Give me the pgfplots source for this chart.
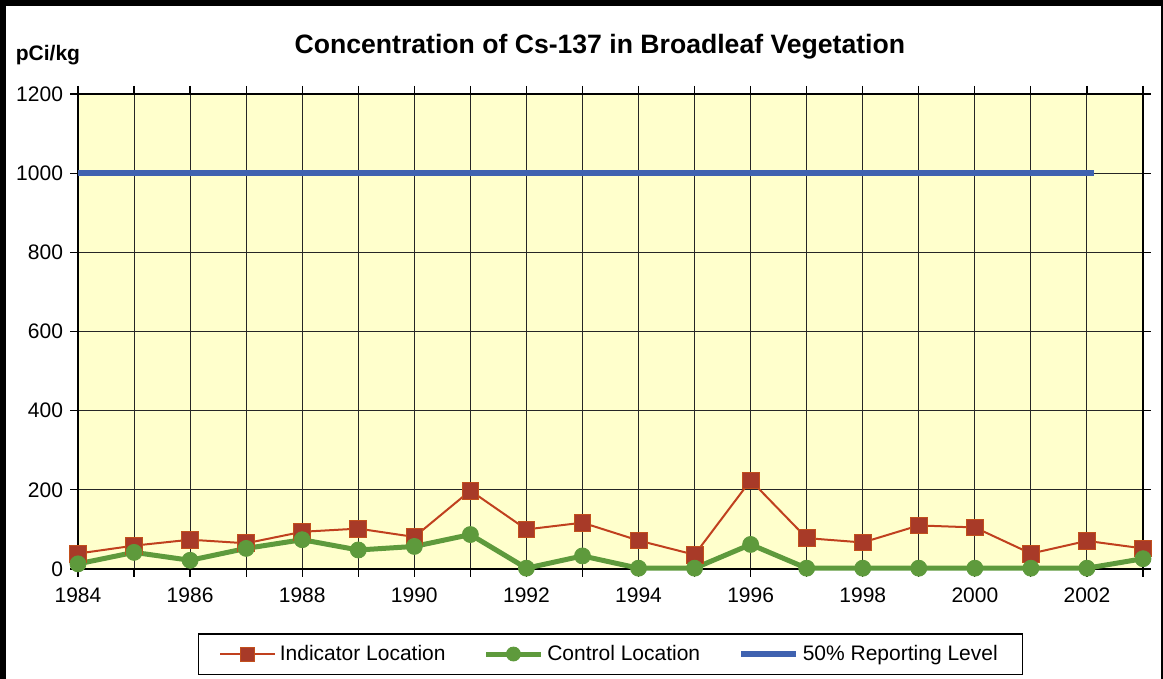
\documentclass[border=0pt]{standalone}
\usepackage{pgfplots}
\pgfplotsset{compat=1.18}
\usepackage{fontspec}
\setmainfont{Liberation Sans}
\definecolor{indic}{HTML}{A83A28}
\definecolor{indicline}{HTML}{C0401E}
\definecolor{ctrl}{HTML}{5E9A3C}
\definecolor{rep}{HTML}{3F62B0}
\definecolor{bg}{HTML}{FFFFCC}
\begin{document}
\begin{tikzpicture}
\useasboundingbox (-39pt,-55pt) rectangle (542.5pt,284.5pt);
\begin{axis}[
 scale only axis, width=532.5pt, height=237.5pt,
 xmin=1984, xmax=2003, ymin=0, ymax=1200,
 xtick={1984,1986,...,2002}, minor xtick={1985,1987,...,2003},
 ytick={0,200,...,1200},
 grid=both,
 major grid style={black!85,line width=0.5pt},
 minor grid style={black!85,line width=0.5pt},
 tick align=outside, tick style={black, line width=0.6pt},
 major tick length=4pt, minor tick length=4pt,
 axis background/.style={fill=bg},
 axis line style={black, line width=0.7pt},
 tick label style={font=\fontsize{10.5}{12}\selectfont},
 /pgf/number format/1000 sep={}, /pgf/number format/assume math mode=true,
 xticklabel style={yshift=-2pt},
 legend columns=3,
 legend style={at={(0.5,-0.179)}, anchor=center, draw=black, line width=0.6pt,
   font=\fontsize{10.5}{12}\selectfont,
   /tikz/every even column/.append style={column sep=17pt},
   inner xsep=10.5pt, inner ysep=3.5pt},
 legend image code/.code={\draw[mark repeat=2,mark phase=2,mark size=3.5pt] plot coordinates {(0cm,0cm) (0.48cm,0cm) (0.96cm,0cm)};},
 clip=false,
]
\addplot[indicline, line width=1pt, mark=square*, mark size=4.2pt,
  mark options={fill=indic, draw=indic!70!orange, line width=0.4pt}] coordinates {
 (1984,39) (1985,59) (1986,74) (1987,65) (1988,94) (1989,102) (1990,81)
 (1991,198) (1992,100) (1993,117) (1994,72) (1995,36) (1996,224) (1997,78)
 (1998,67) (1999,110) (2000,105) (2001,39) (2002,71) (2003,52)};
\addlegendentry{Indicator Location}
\addplot[ctrl, line width=2.5pt, mark=*, mark size=4pt,
  mark options={fill=ctrl, draw=ctrl, line width=0.4pt}] coordinates {
 (1984,13) (1985,42) (1986,22) (1987,52) (1988,74) (1989,48) (1990,57)
 (1991,87) (1992,2) (1993,33) (1994,2) (1995,2) (1996,62) (1997,2)
 (1998,2) (1999,2) (2000,2) (2001,2) (2002,2) (2003,26)};
\addlegendentry{Control Location}
\addplot[rep, line width=3pt, no marks] coordinates {(1984,1000) (2002.12,1000)};
\addlegendentry{50\% Reporting Level}
\node[font=\bfseries\fontsize{13.3}{15}\selectfont] at (axis description cs:0.49,1.099) {Concentration of Cs-137 in Broadleaf Vegetation};
\node[font=\bfseries\fontsize{10.5}{12}\selectfont, anchor=west] at (axis description cs:-0.065,1.082) {pCi/kg};
\end{axis}
\draw[line width=3pt] (-37.5pt,-55pt) -- (-37.5pt,283pt) -- (542.5pt,283pt);
\draw[line width=1pt] (542pt,283pt) -- (542pt,-55pt);
\end{tikzpicture}
\end{document}
